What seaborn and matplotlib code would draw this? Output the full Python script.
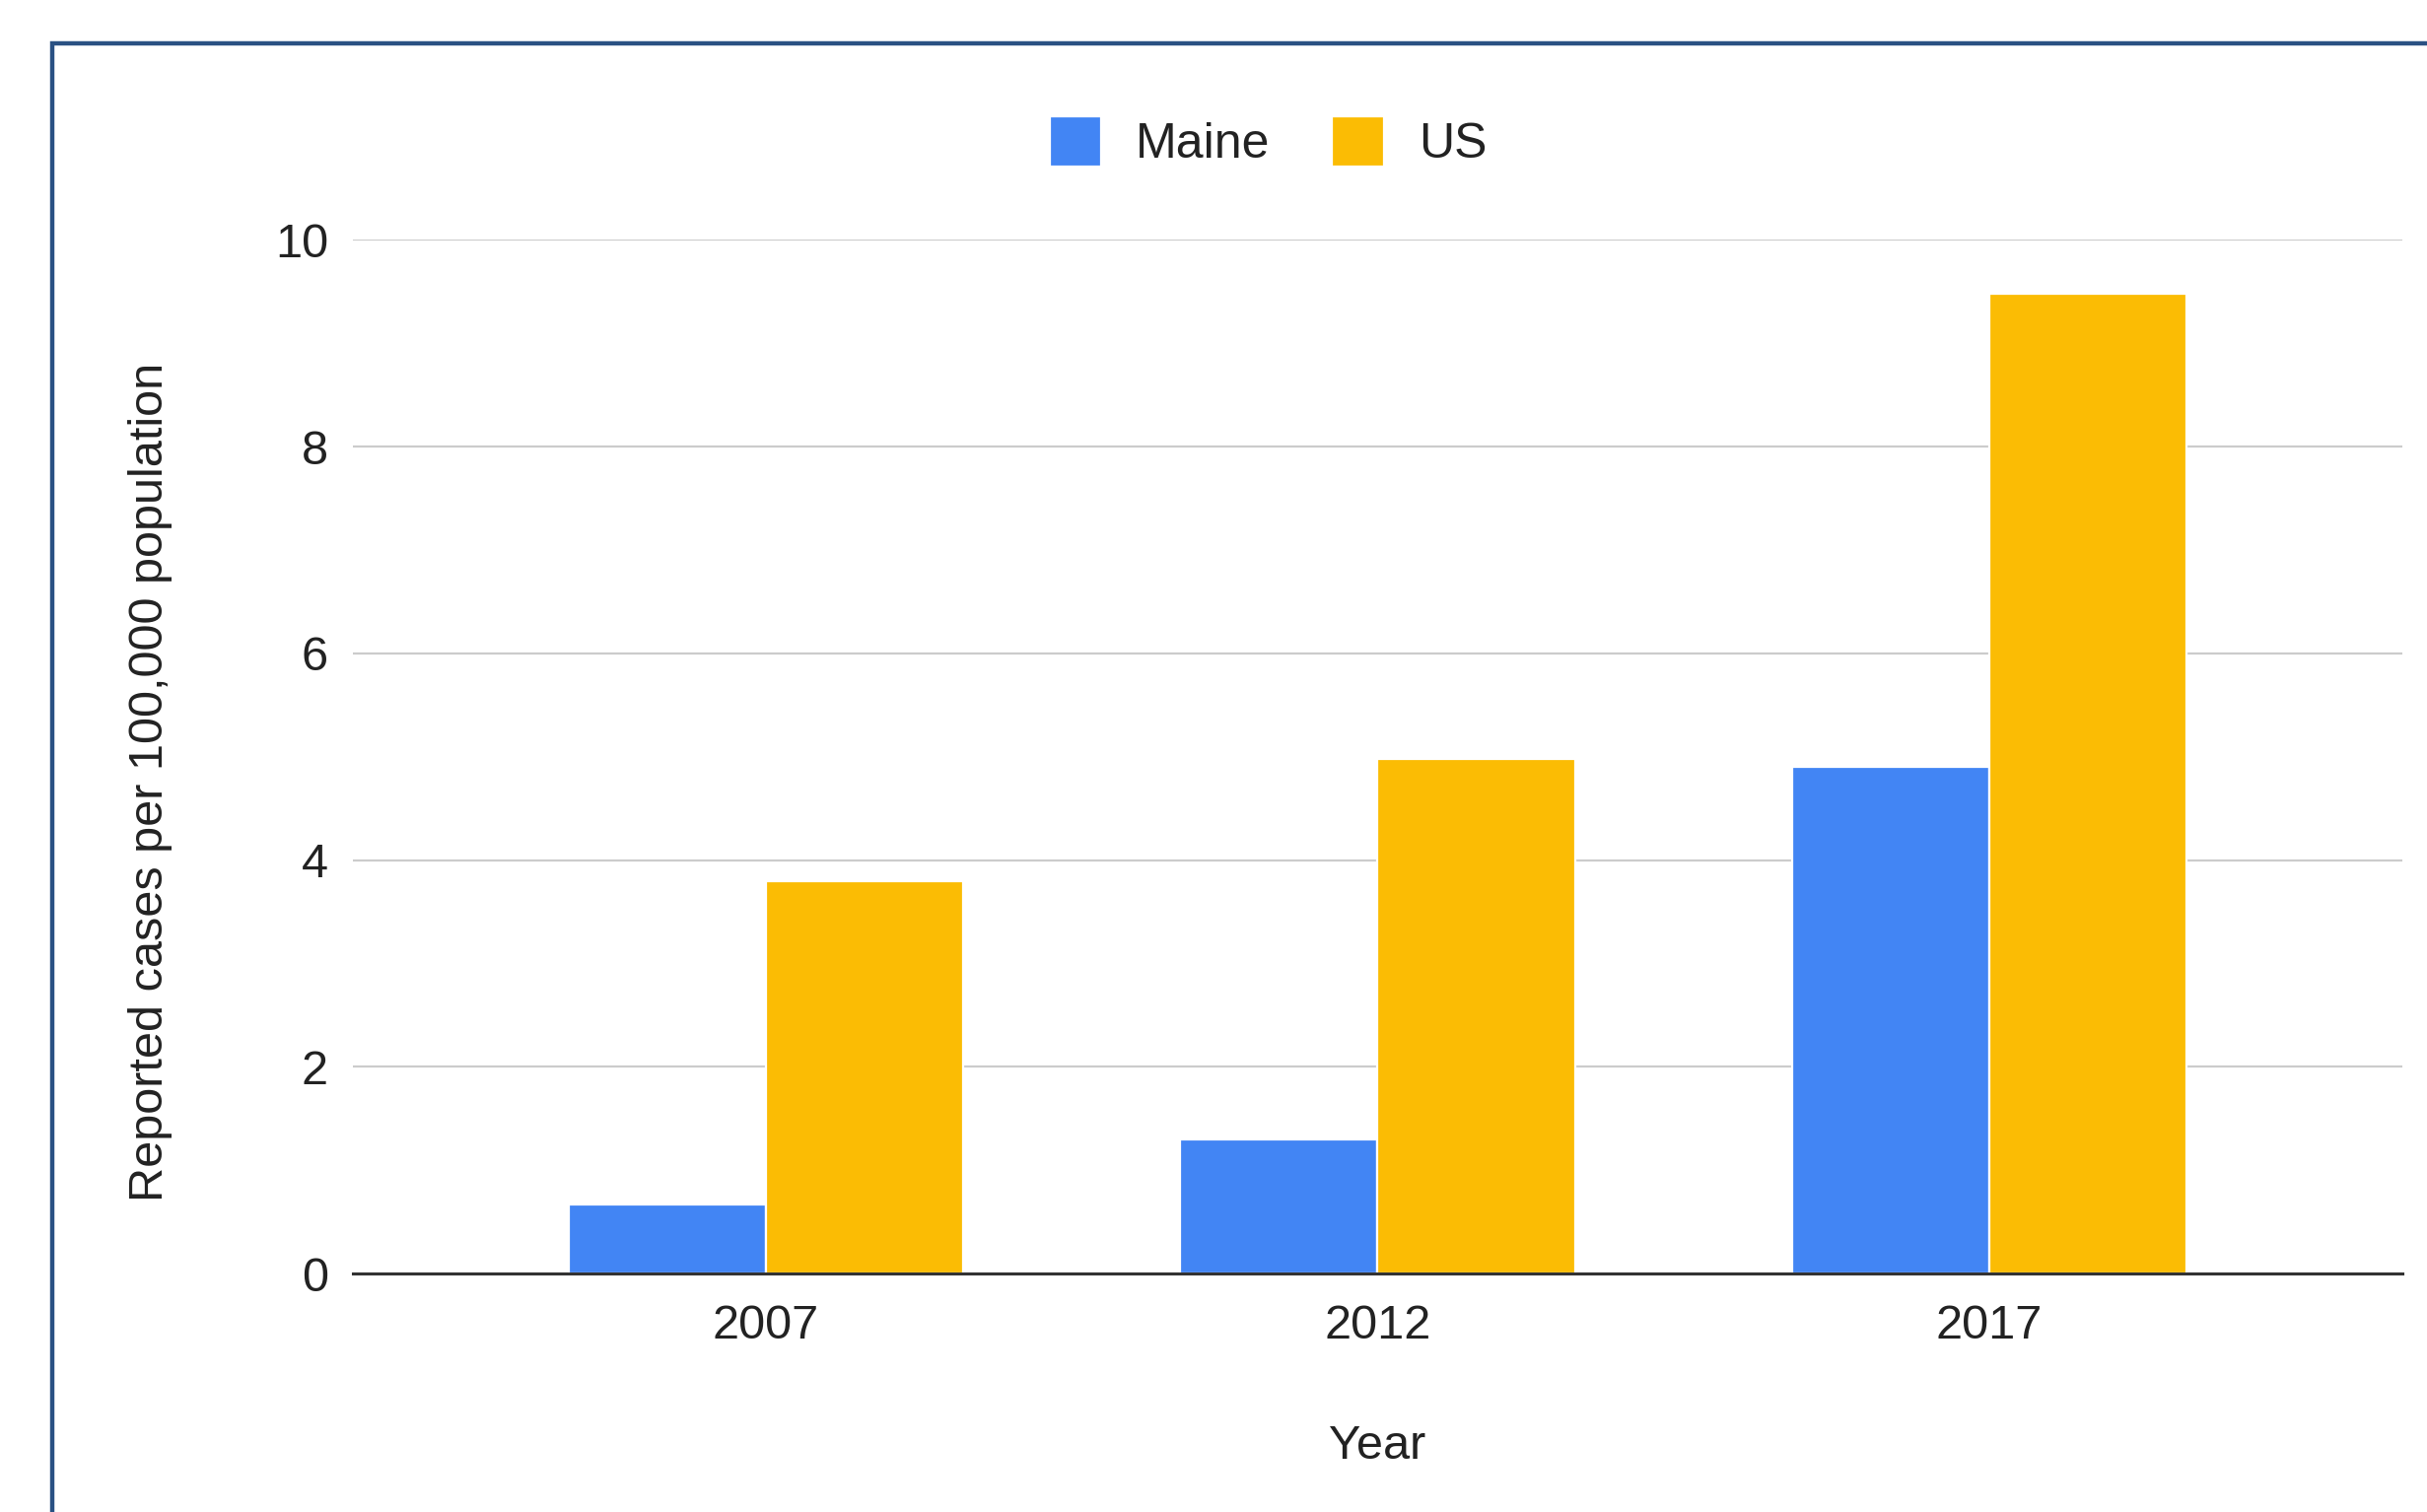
import numpy as np
import pandas as pd
import matplotlib.pyplot as plt
import seaborn as sns
from matplotlib.patches import Rectangle

years = ['2007', '2012', '2017']
maine = [0.67, 1.30, 4.90]
us = [3.80, 4.98, 9.48]

df = pd.DataFrame({
    'Year': years * 2,
    'Rate': maine + us,
    'Region': ['Maine'] * 3 + ['US'] * 3,
})

sns.set_theme(style="white")
plt.rcParams['font.family'] = ['Liberation Sans', 'DejaVu Sans']

fig = plt.figure(figsize=(12.31, 7.67), dpi=200)
ax = fig.add_axes([0.1454, 0.1576, 0.8444, 0.6837])

sns.barplot(data=df, x='Year', y='Rate', hue='Region',
            palette={'Maine': '#4285F4', 'US': '#FBBC04'}, saturation=1,
            width=0.645, edgecolor='white', linewidth=0.8, ax=ax)

ax.set_ylim(0, 10)
ax.set_xlim(-0.675, 2.675)
ax.set_yticks([0, 2, 4, 6, 8, 10])
ax.yaxis.grid(True, color='#cccccc', linewidth=0.8)
ax.set_axisbelow(True)
for s in ['top', 'right', 'left']:
    ax.spines[s].set_visible(False)
ax.spines['bottom'].set_color('#333333')
ax.spines['bottom'].set_linewidth(1.1)
ax.spines['bottom'].set_zorder(5)
ax.tick_params(axis='both', length=0, labelsize=17.5, colors='#222222', pad=9)
ax.tick_params(axis='x', pad=11)

ax.set_xlabel('Year', fontsize=17.5, color='#222222')
ax.xaxis.set_label_coords(0.5, -0.167)
ax.xaxis.label.set_va('center')
ax.set_ylabel('Reported cases per 100,000 population', fontsize=17.5, color='#222222')
ax.yaxis.set_label_coords(-0.099, 0.476)
ax.yaxis.label.set_va('center')

handles, labels = ax.get_legend_handles_labels()
ax.get_legend().remove()
fig.legend(handles, labels, loc='center', bbox_to_anchor=(0.5225, 0.906), ncol=2,
           frameon=False, fontsize=18, handlelength=1.05, handleheight=1.2,
           handletextpad=0.7, columnspacing=1.25, labelcolor='#222222')

# outer border (runs past right and bottom edges)
fig.patches.append(Rectangle((0.0215, -0.05), 1.05, 1.0215,
                             transform=fig.transFigure, fill=False,
                             edgecolor='#2a5183', linewidth=1.6))

fig.savefig('out.png', dpi=200)
plt.close()
